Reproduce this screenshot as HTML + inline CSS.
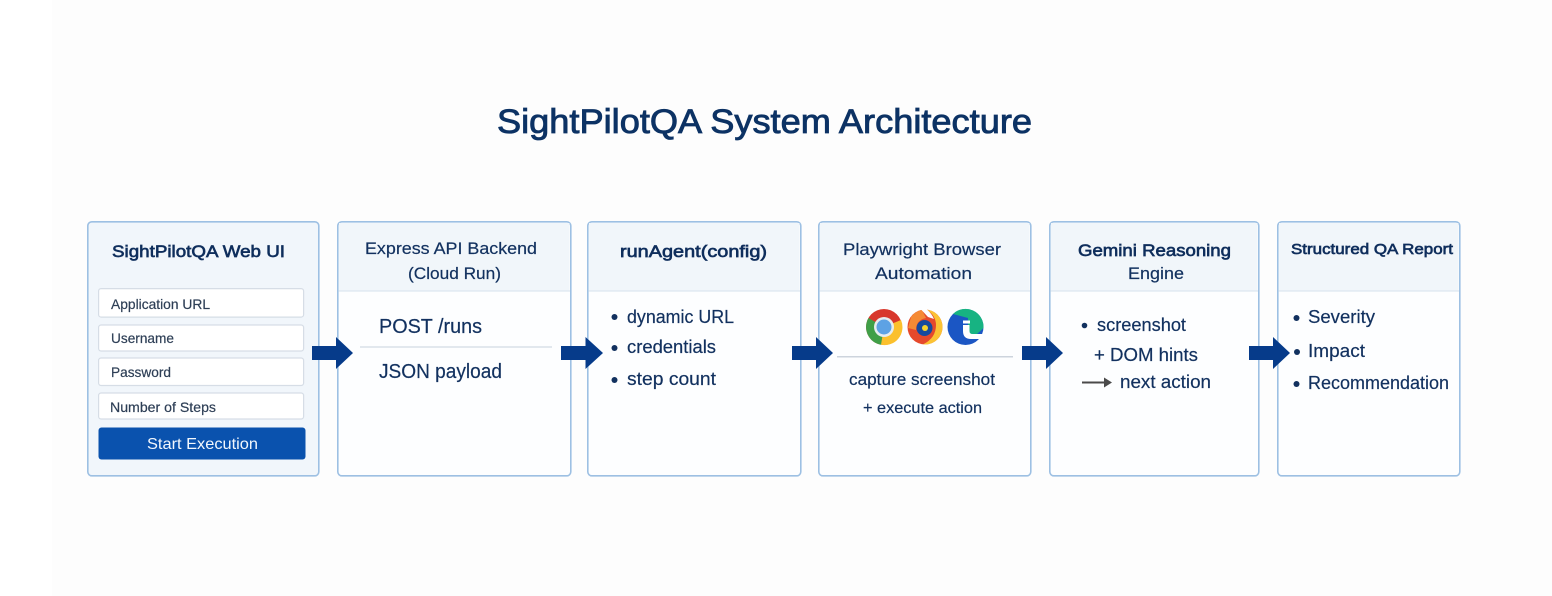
<!DOCTYPE html>
<html>
<head>
<meta charset="utf-8">
<style>
html,body{margin:0;padding:0;background:#fff;width:1552px;height:596px;overflow:hidden}
svg{display:block;filter:blur(0.35px)}
text{font-family:"Liberation Sans",sans-serif;fill:#12315f;stroke:#12315f;stroke-width:.2px}
.card{fill:#fdfeff;stroke:#9dc0e3;stroke-width:1.6}
.head{fill:#f1f6fa}
.hl{stroke:#dde7f0;stroke-width:1.2}
.field{fill:#fff;stroke:#d6dde6;stroke-width:1.2}
.f{font-size:14px;fill:#2e3f56;stroke:#2e3f56}
.t{font-size:17px}
.b{font-size:17px;fill:#0f2e5c;stroke:#0f2e5c;stroke-width:.65px}
.l{font-size:18px}
</style>
</head>
<body>
<svg width="1552" height="596" viewBox="0 0 1552 596" xmlns="http://www.w3.org/2000/svg">
<rect width="1552" height="596" fill="#fff"/>
<rect x="52" y="0" width="1500" height="596" fill="#fdfdfd"/>

<text x="497" y="133" font-size="34" textLength="535" lengthAdjust="spacingAndGlyphs" style="fill:#0c3264;stroke:#0c3264;stroke-width:.85px">SightPilotQA System Architecture</text>

<!-- Card 1 -->
<rect class="card" x="87.8" y="221.8" width="231" height="254" rx="4" style="fill:#f1f6fb"/>
<text class="b" x="112" y="257" textLength="173" lengthAdjust="spacingAndGlyphs">SightPilotQA Web UI</text>
<rect class="field" x="98.6" y="288.6" width="205" height="28.5" rx="2.5"/>
<text class="f" x="111" y="309" textLength="99" lengthAdjust="spacingAndGlyphs">Application URL</text>
<rect class="field" x="98.6" y="325" width="205" height="26" rx="2.5"/>
<text class="f" x="111" y="343" textLength="63" lengthAdjust="spacingAndGlyphs">Username</text>
<rect class="field" x="98.6" y="358" width="205" height="27.5" rx="2.5"/>
<text class="f" x="111" y="377" textLength="60" lengthAdjust="spacingAndGlyphs">Password</text>
<rect class="field" x="98.6" y="393" width="205" height="26" rx="2.5"/>
<text class="f" x="110" y="412" textLength="106" lengthAdjust="spacingAndGlyphs">Number of Steps</text>
<rect x="98.5" y="427.5" width="207" height="32" rx="3" fill="#0a52ae"/>
<text x="147" y="449" font-size="16" textLength="111" lengthAdjust="spacingAndGlyphs" style="fill:#f2f7fd;stroke:none">Start Execution</text>

<!-- Card 2 -->
<rect class="card" x="337.8" y="221.8" width="233" height="254" rx="4"/>
<path class="head" d="M339 223h230.500v68H339z"/>
<line class="hl" x1="338.500" y1="291" x2="570" y2="291"/>
<text class="t" x="365" y="254" textLength="172" lengthAdjust="spacingAndGlyphs">Express API Backend</text>
<text class="t" x="408" y="279" textLength="93" lengthAdjust="spacingAndGlyphs">(Cloud Run)</text>
<text x="379" y="333" font-size="20" textLength="103" lengthAdjust="spacingAndGlyphs">POST /runs</text>
<line x1="360" y1="347" x2="552" y2="347" stroke="#d3dae3" stroke-width="1.2"/>
<text x="379" y="378" font-size="20" textLength="123" lengthAdjust="spacingAndGlyphs">JSON payload</text>

<!-- Card 3 -->
<rect class="card" x="587.8" y="221.8" width="213" height="254" rx="4"/>
<path class="head" d="M589 223h210.500v68H589z"/>
<line class="hl" x1="588.500" y1="291" x2="800" y2="291"/>
<text class="b" x="620" y="257" textLength="147" lengthAdjust="spacingAndGlyphs">runAgent(config)</text>
<circle cx="614.500" cy="317" r="3" fill="#12315f"/>
<text class="l" x="627" y="323" textLength="107" lengthAdjust="spacingAndGlyphs">dynamic URL</text>
<circle cx="614.500" cy="348" r="3" fill="#12315f"/>
<text class="l" x="627" y="353" textLength="89" lengthAdjust="spacingAndGlyphs">credentials</text>
<circle cx="614.500" cy="380" r="3" fill="#12315f"/>
<text class="l" x="627" y="385" textLength="89" lengthAdjust="spacingAndGlyphs">step count</text>

<!-- Card 4 -->
<rect class="card" x="818.800" y="221.800" width="212" height="254" rx="4"/>
<path class="head" d="M820 223h209.500v68H820z"/>
<line class="hl" x1="819.500" y1="291" x2="1030" y2="291"/>
<text class="t" x="843" y="255" textLength="158" lengthAdjust="spacingAndGlyphs">Playwright Browser</text>
<text class="t" x="875" y="279" textLength="97" lengthAdjust="spacingAndGlyphs">Automation</text>

<!-- Browser icons -->
<circle cx="884" cy="327" r="18" fill="#d8372c"/>
<path d="M884 327 L868.500 318 A18 18 0 0 0 881 344.800 L891 333Z" fill="#3f9f48"/>
<path d="M884 327 L901 320 A18 18 0 0 1 881 344.800Z" fill="#fbc02d"/>
<circle cx="884" cy="327" r="10" fill="#e6ecef"/>
<circle cx="884" cy="327" r="7.500" fill="#5da2e4"/>

<circle cx="925" cy="327" r="17.500" fill="#e5492c"/>
<path d="M911 317 A17.500 17.500 0 0 1 922 310 L926 318 Q916 320 916 330 L908 328Z" fill="#f58a34"/>
<path d="M927 309.600 A17.500 17.500 0 0 1 923 344.400 Q936 338 936 325 Q936 316 927 309.600Z" fill="#fbc334"/>
<path d="M921 309.500 L927 309.500 Q932 314 934 319 L928 317Z" fill="#fdfeff"/>
<circle cx="924.500" cy="328" r="8" fill="#174a9d"/>
<circle cx="925" cy="328" r="3" fill="#f6d32d"/>

<circle cx="965.500" cy="327" r="18" fill="#1b56c4"/>
<path d="M953 314 A18 18 0 0 1 983.500 328 L976 335 H968 V318Z" fill="#17b382"/>
<rect x="963" y="320" width="0.100" height="0.100" fill="#fff"/>
<rect x="963" y="320.500" width="7" height="3" fill="#fff"/>
<path d="M963 325 h6.500 v6 q0 3 3 3 h10.500 q-1 3 -3 5 h-9 q-8 0 -8 -8Z" fill="#fff"/>

<line x1="837" y1="356.800" x2="1013" y2="356.800" stroke="#cdd4dd" stroke-width="1.500"/>
<text x="849" y="385" font-size="16.500" textLength="146" lengthAdjust="spacingAndGlyphs">capture screenshot</text>
<text x="863" y="413" font-size="16" textLength="119" lengthAdjust="spacingAndGlyphs">+ execute action</text>

<!-- Card 5 -->
<rect class="card" x="1049.800" y="221.800" width="209" height="254" rx="4"/>
<path class="head" d="M1051 223h206.500v68H1051z"/>
<line class="hl" x1="1050.500" y1="291" x2="1258" y2="291"/>
<text class="b" x="1078" y="256" textLength="153" lengthAdjust="spacingAndGlyphs">Gemini Reasoning</text>
<text class="t" x="1128" y="279" textLength="56" lengthAdjust="spacingAndGlyphs">Engine</text>
<circle cx="1084.500" cy="325.500" r="2.800" fill="#12315f"/>
<text class="l" x="1097" y="331" textLength="89" lengthAdjust="spacingAndGlyphs">screenshot</text>
<text class="l" x="1094" y="361" textLength="104" lengthAdjust="spacingAndGlyphs">+ DOM hints</text>
<line x1="1082" y1="382.500" x2="1106" y2="382.500" stroke="#4a4a4a" stroke-width="2"/>
<path d="M1104 377.500 L1112 382.500 L1104 387.500Z" fill="#4a4a4a"/>
<text class="l" x="1120" y="388" textLength="91" lengthAdjust="spacingAndGlyphs">next action</text>

<!-- Card 6 -->
<rect class="card" x="1277.800" y="221.800" width="182" height="254" rx="4"/>
<path class="head" d="M1279 223h179.500v68H1279z"/>
<line class="hl" x1="1278.500" y1="291" x2="1459" y2="291"/>
<text class="b" x="1291" y="254" style="font-size:15px" textLength="162" lengthAdjust="spacingAndGlyphs">Structured QA Report</text>
<circle cx="1296.500" cy="318" r="3" fill="#12315f"/>
<text class="l" x="1308" y="323" textLength="67" lengthAdjust="spacingAndGlyphs">Severity</text>
<circle cx="1297" cy="352" r="3" fill="#12315f"/>
<text class="l" x="1308" y="357" textLength="57" lengthAdjust="spacingAndGlyphs">Impact</text>
<circle cx="1296.500" cy="384" r="3" fill="#12315f"/>
<text class="l" x="1308" y="389" textLength="141" lengthAdjust="spacingAndGlyphs">Recommendation</text>

<!-- Arrows -->
<g fill="#063b8a">
<path d="M312 346h24v-9l17 16-17 16v-9h-24z"/>
<path d="M561 346h24.500v-9l17.500 16-17.500 16v-9h-24.500z"/>
<path d="M792 346h24v-9l17 16-17 16v-9h-24z"/>
<path d="M1022 346h24v-9l17 16-17 16v-9h-24z"/>
<path d="M1249 346h24v-9l17 16-17 16v-9h-24z"/>
</g>
</svg>
</body>
</html>
